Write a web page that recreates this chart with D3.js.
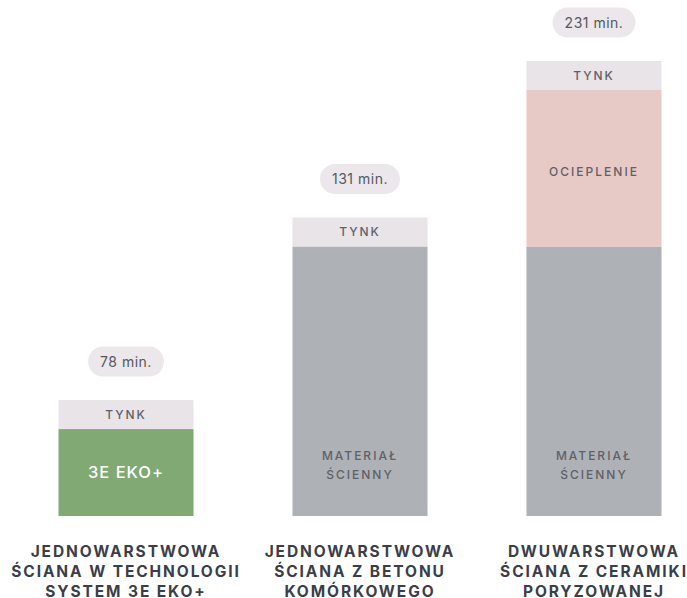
<!DOCTYPE html>
<html><head><meta charset="utf-8">
<script src="https://cdn.jsdelivr.net/npm/d3@7"></script>
<style>body{margin:0;background:#fff}svg{display:block}</style>
</head><body>
<svg id="c" width="687" height="598"></svg>
<script>
const categories = ["a", "b", "c"];
const categoryLabels = [
  ["JEDNOWARSTWOWA", "ŚCIANA W TECHNOLOGII", "SYSTEM 3E EKO+"],
  ["JEDNOWARSTWOWA", "ŚCIANA Z BETONU", "KOMÓRKOWEGO"],
  ["DWUWARSTWOWA", "ŚCIANA Z CERAMIKI", "PORYZOWANEJ"]
];
const totals = ["78 min.", "131 min.", "231 min."];
// segment heights (relative units), bottom to top
const wallMaterial = [30, 93, 93];
const insulation = [0, 0, 54];
const plaster = [10, 10, 10];
const wallLabels = [["3E EKO+"], ["MATERIAŁ", "ŚCIENNY"], ["MATERIAŁ", "ŚCIENNY"]];
const insulationLabel = ["OCIEPLENIE"];
const plasterLabel = ["TYNK"];

const svg = d3.select("#c");
const x = d3.scaleBand().domain(categories).range([58.5, 661.5]).paddingInner(0.423).paddingOuter(0);
const maxTotal = d3.max(categories, (c, i) => wallMaterial[i] + insulation[i] + plaster[i]);
const y = d3.scaleLinear().domain([0, maxTotal]).range([516, 61]);

const font = "Inter, 'DejaVu Sans', sans-serif";
const bw = x.bandwidth();

categories.forEach((c, i) => {
  const cx = x(c) + bw / 2;
  const x0 = x(c);
  const g = svg.append("g");
  const segs = [
    {v: wallMaterial[i], color: i === 0 ? "#80a974" : "#aeb1b5", label: wallLabels[i], text: i === 0 ? "#ffffff" : "#5e6168", size: i === 0 ? 16.5 : 12, kind: "wall"},
    {v: insulation[i], color: "#e7c9c6", label: insulationLabel, text: "#5e6168", size: 12, kind: "ins"},
    {v: plaster[i], color: "#e8e4e8", label: plasterLabel, text: "#5e6168", size: 12, kind: "pl"}
  ];
  let acc = 0;
  segs.forEach(s => {
    if (s.v <= 0) return;
    const yt = y(acc + s.v), yb = y(acc);
    g.append("rect").attr("x", x0).attr("y", yt).attr("width", bw).attr("height", yb - yt).attr("fill", s.color);
    let ty;
    if (s.kind === "wall" && i > 0) ty = yb - 60;
    else if (s.kind === "ins") ty = (yt + yb) / 2 + 3.5;
    else ty = (yt + yb) / 2 - (s.label.length - 1) * 9.5;
    s.label.forEach((t, k) => {
      g.append("text").attr("x", cx).attr("y", ty + k * 19).attr("dy", "0.36em")
        .attr("text-anchor", "middle").attr("font-family", font).attr("font-size", s.size)
        .attr("letter-spacing", s.kind === "wall" && i === 0 ? 1 : 2).attr("fill", s.text)
        .attr("font-weight", 500).text(t);
    });
    acc += s.v;
  });
  // total pill
  const topY = y(acc);
  const py = topY - 38.5;
  const pt = g.append("text").attr("x", cx).attr("y", py).attr("dy", "0.36em").attr("text-anchor", "middle")
    .attr("font-family", font).attr("font-size", 14).attr("fill", "#55585e").attr("letter-spacing", 0.5).text(totals[i]);
  const w = pt.node().getComputedTextLength() + 24;
  g.insert("rect", "text").attr("x", cx - w / 2).attr("y", py - 15).attr("width", w).attr("height", 30).attr("rx", 15).attr("fill", "#ebe7ea");
  // category label
  categoryLabels[i].forEach((t, k) => {
    svg.append("text").attr("x", cx).attr("y", 551 + k * 20).attr("dy", "0.36em").attr("text-anchor", "middle")
      .attr("font-family", font).attr("font-size", 15.5).attr("font-weight", 700).attr("letter-spacing", 1.9)
      .attr("fill", "#3a3e48").text(t);
  });
});
</script>
</body></html>
